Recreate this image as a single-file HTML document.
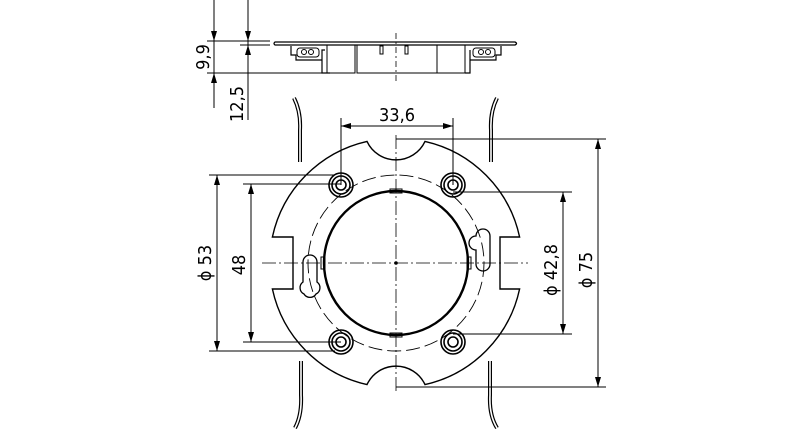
<!DOCTYPE html>
<html><head><style>
html,body{margin:0;padding:0;background:#fff;}
svg{display:block;}
text{font-family:"DejaVu Sans Condensed","Liberation Sans",sans-serif;font-size:18px;fill:#000;}
</style></head><body>
<svg width="800" height="434" viewBox="0 0 800 434" xmlns="http://www.w3.org/2000/svg">
<defs>
<marker id="a" viewBox="0 0 10 6" refX="10" refY="3" markerWidth="10" markerHeight="6" markerUnits="userSpaceOnUse" orient="auto"><path d="M0,0L10,3L0,6z" fill="#000"/></marker>
</defs>
<g fill="none" stroke="#000" stroke-width="1">
<!-- top side view -->
<line x1="214" y1="0" x2="214" y2="108"/>
<line x1="248" y1="0" x2="248" y2="120"/>
<line x1="207" y1="41" x2="270" y2="41"/>
<line x1="207" y1="73" x2="330" y2="73"/>
<path d="M214,16V41" marker-end="url(#a)"/>
<path d="M214,100V73" marker-end="url(#a)"/>
<path d="M248,16V41" marker-end="url(#a)"/>
<path d="M248,62V45" marker-end="url(#a)"/>
<line x1="240" y1="45" x2="270" y2="45"/>
<path d="M275,42H515Q518,43.5 515,45H275Q273,43.5 275,42Z" stroke-width="1.3"/>
<path d="M291,46V55H296V60H322V73H330M322,60V50H325" stroke-width="1.2"/>
<rect x="327" y="45" width="28" height="28"/>
<rect x="357" y="45" width="80" height="28"/>
<rect x="437" y="45" width="28" height="28"/>
<path d="M501,46V55H496V60H470V73H465M470,60V50" stroke-width="1.2"/>
<rect x="297" y="48" width="22" height="9" rx="3"/>
<rect x="473" y="48" width="22" height="9" rx="3"/>
<circle cx="304" cy="52" r="2.5"/><circle cx="311" cy="52" r="2.5"/>
<circle cx="481" cy="52" r="2.5"/><circle cx="488" cy="52" r="2.5"/>
<rect x="380" y="46" width="3" height="8"/><rect x="405" y="46" width="3" height="8"/>
<line x1="396" y1="33" x2="396" y2="82" stroke-dasharray="6,3,2,3" stroke-width="0.8"/>
<!-- side ticks -->
<g stroke-width="4">
<path d="M294,98Q301,112 300,130V162"/><path d="M497,98Q490,112 491,130V162"/>
<path d="M301,361V395Q302,415 295,428"/><path d="M490,361V395Q489,415 497,428"/>
</g>
<g stroke="#fff" stroke-width="1.6">
<path d="M294,98Q301,112 300,130V162"/><path d="M497,98Q490,112 491,130V162"/>
<path d="M301,361V395Q302,415 295,428"/><path d="M490,361V395Q489,415 497,428"/>
</g>
<!-- 33,6 -->
<line x1="341" y1="118" x2="341" y2="185"/>
<line x1="453" y1="118" x2="453" y2="185"/>
<path d="M365,126H341" marker-end="url(#a)"/>
<path d="M429,126H453" marker-end="url(#a)"/>
<line x1="365" y1="126" x2="429" y2="126"/>
<!-- outer plate -->
<path d="M367,141.4 A32,32 0 0 0 425,141.4 A125,125 0 0 1 519.6,237 H500 V289 H519.6 A125,125 0 0 1 425,384.6 A32,32 0 0 0 367,384.6 A125,125 0 0 1 272.4,289 H293 V237 H272.4 A125,125 0 0 1 367,141.4Z" stroke-width="1.4"/>
<circle cx="396" cy="263" r="88" stroke-dasharray="14,5" stroke-width="0.9"/>
<circle cx="396" cy="263" r="72" stroke-width="2.4"/>
<g stroke-width="1">
<rect x="390" y="189" width="12" height="4"/><rect x="390" y="333" width="12" height="4"/>
<rect x="321" y="257" width="4" height="12"/><rect x="467" y="257" width="4" height="12"/>
</g>
<path d="M303,262a7,7 0 0 1 14,0v20a7,7 0 0 1 -1,12a7,7 0 0 1 -12,0a7,7 0 0 1 -1,-12z" stroke-width="1.3"/>
<path d="M476,236a7,7 0 0 1 14,0v28a7,7 0 0 1 -14,0v-14a7,7 0 0 1 0,-14z" stroke-width="1.3"/>
<!-- holes -->
<g stroke-width="1.6">
<circle cx="341" cy="185" r="12"/><circle cx="341" cy="185" r="9"/><circle cx="341" cy="185" r="5"/>
<circle cx="453" cy="185" r="12"/><circle cx="453" cy="185" r="9"/><circle cx="453" cy="185" r="5"/>
<circle cx="341" cy="342" r="12"/><circle cx="341" cy="342" r="9"/><circle cx="341" cy="342" r="5"/>
<circle cx="453" cy="342" r="12"/><circle cx="453" cy="342" r="9"/><circle cx="453" cy="342" r="5"/>
</g>
<!-- center lines -->
<g stroke-width="0.8" stroke-dasharray="14,3,2,3">
<line x1="396" y1="135" x2="396" y2="392"/>
<line x1="262" y1="263" x2="528" y2="263"/>
</g>
<circle cx="396" cy="263" r="1.3" fill="#000"/>
<!-- left dims -->
<line x1="209" y1="175" x2="335" y2="175"/>
<line x1="209" y1="351" x2="335" y2="351"/>
<line x1="243" y1="184" x2="341" y2="184"/>
<line x1="243" y1="342" x2="341" y2="342"/>
<path d="M217,200V175" marker-end="url(#a)"/><path d="M217,326V351" marker-end="url(#a)"/>
<line x1="217" y1="200" x2="217" y2="326"/>
<path d="M251,208V184" marker-end="url(#a)"/><path d="M251,318V342" marker-end="url(#a)"/>
<line x1="251" y1="208" x2="251" y2="318"/>
<!-- right dims -->
<line x1="396" y1="139" x2="606" y2="139"/>
<line x1="396" y1="387" x2="606" y2="387"/>
<line x1="453" y1="192" x2="572" y2="192"/>
<line x1="453" y1="334" x2="572" y2="334"/>
<path d="M563,215V192" marker-end="url(#a)"/><path d="M563,311V334" marker-end="url(#a)"/>
<line x1="563" y1="215" x2="563" y2="311"/>
<path d="M598,165V139" marker-end="url(#a)"/><path d="M598,361V387" marker-end="url(#a)"/>
<line x1="598" y1="165" x2="598" y2="361"/>
</g>
<text x="397" y="121" text-anchor="middle">33,6</text>
<text transform="translate(209,57) rotate(-90)" text-anchor="middle">9,9</text>
<text transform="translate(243,104) rotate(-90)" text-anchor="middle">12,5</text>
<text transform="translate(211,263) rotate(-90)" text-anchor="middle">ϕ 53</text>
<text transform="translate(245,265) rotate(-90)" text-anchor="middle">48</text>
<text transform="translate(557,270) rotate(-90)" text-anchor="middle">ϕ 42,8</text>
<text transform="translate(592,270) rotate(-90)" text-anchor="middle">ϕ 75</text>
</svg>
</body></html>
